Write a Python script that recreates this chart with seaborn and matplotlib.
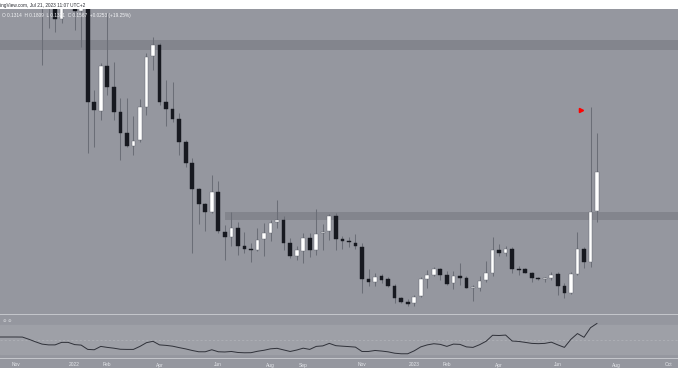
import numpy as np
import pandas as pd
import matplotlib
matplotlib.use("Agg")
import matplotlib.pyplot as plt
import matplotlib.dates as mdates
from matplotlib.patches import Rectangle
import seaborn as sns

# ---------------- data (weekly candles, XLM/USD) ----------------
first_week = "2021-10-11"
opens = [0.3600, 0.3850, 0.3800, 0.3950, 0.3620, 0.3450, 0.3180,
         0.3050, 0.2720, 0.2620, 0.2473, 0.2680, 0.2620, 0.2520, 0.2660, 0.1966, 0.1911,
         0.2186, 0.2057, 0.1905, 0.1776, 0.1697, 0.1734, 0.1935, 0.2247, 0.2314, 0.1966,
         0.1923, 0.1862, 0.1721, 0.1593, 0.1434, 0.1343, 0.1294, 0.1416, 0.1172, 0.1141,
         0.1196, 0.1086, 0.1068, 0.1062, 0.1129, 0.1165, 0.1233, 0.1245, 0.1104, 0.1025,
         0.1055, 0.1135, 0.1062, 0.1165, 0.1178, 0.1269, 0.1129, 0.1117, 0.1104, 0.1080,
         0.0884, 0.0866, 0.0903, 0.0884, 0.0842, 0.0768, 0.0744, 0.0738, 0.0780, 0.0884,
         0.0909, 0.0945, 0.0909, 0.0860, 0.0903, 0.0891, 0.0829, 0.0829, 0.0878, 0.0921,
         0.1062, 0.1043, 0.1068, 0.0945, 0.0945, 0.0921, 0.0891, 0.0884, 0.0891, 0.0915,
         0.0842, 0.0799, 0.0915, 0.1068, 0.0988, 0.1300]
highs = [0.3950, 0.4000, 0.4050, 0.3980, 0.3720, 0.3500, 0.3450,
         0.3200, 0.2850, 0.2680, 0.2750, 0.2850, 0.2720, 0.2750, 0.2720, 0.2039, 0.2204,
         0.2510, 0.2210, 0.1990, 0.1990, 0.1880, 0.1984, 0.2265, 0.2363, 0.2326, 0.2100,
         0.2088, 0.1899, 0.1734, 0.1624, 0.1440, 0.1350, 0.1520, 0.1483, 0.1214, 0.1294,
         0.1233, 0.1172, 0.1104, 0.1196, 0.1227, 0.1245, 0.1367, 0.1269, 0.1135, 0.1086,
         0.1165, 0.1165, 0.1312, 0.1220, 0.1281, 0.1288, 0.1147, 0.1141, 0.1159, 0.1104,
         0.0945, 0.0921, 0.0915, 0.0897, 0.0854, 0.0774, 0.0762, 0.0787, 0.0897, 0.0939,
         0.0958, 0.0952, 0.0933, 0.0933, 0.0982, 0.0903, 0.0848, 0.0903, 0.0994, 0.1141,
         0.1098, 0.1086, 0.1080, 0.0964, 0.0952, 0.0927, 0.0897, 0.0897, 0.0927, 0.0927,
         0.0860, 0.0927, 0.1172, 0.1080, 0.1935, 0.1776]
lows = [0.3520, 0.3700, 0.3720, 0.3500, 0.3300, 0.3100, 0.3000,
        0.2192, 0.2418, 0.2393, 0.2448, 0.2560, 0.2406, 0.2302, 0.1654, 0.1691, 0.1856,
        0.2009, 0.1856, 0.1611, 0.1691, 0.1642, 0.1721, 0.1886, 0.2161, 0.1947, 0.1819,
        0.1844, 0.1642, 0.1569, 0.1043, 0.1220, 0.1178, 0.1290, 0.1165, 0.1000, 0.1086,
        0.1031, 0.1043, 0.0988, 0.1055, 0.1025, 0.1117, 0.1196, 0.1062, 0.1013, 0.1000,
        0.0982, 0.1019, 0.1031, 0.1062, 0.1123, 0.1062, 0.1068, 0.1080, 0.1068, 0.0799,
        0.0842, 0.0842, 0.0860, 0.0835, 0.0738, 0.0738, 0.0719, 0.0719, 0.0774, 0.0829,
        0.0903, 0.0878, 0.0850, 0.0823, 0.0848, 0.0826, 0.0750, 0.0811, 0.0866, 0.0903,
        0.1025, 0.1025, 0.0921, 0.0909, 0.0918, 0.0866, 0.0878, 0.0866, 0.0878, 0.0787,
        0.0768, 0.0793, 0.0909, 0.0952, 0.0958, 0.1233]
closes = [0.3850, 0.3800, 0.3950, 0.3620, 0.3450, 0.3180, 0.3050,
          0.2720, 0.2620, 0.2473, 0.2680, 0.2620, 0.2520, 0.2660, 0.1966, 0.1917, 0.2186,
          0.2057, 0.1905, 0.1776, 0.1697, 0.1727, 0.1935, 0.2241, 0.2314, 0.1966, 0.1923,
          0.1862, 0.1721, 0.1593, 0.1434, 0.1343, 0.1294, 0.1416, 0.1178, 0.1141, 0.1196,
          0.1086, 0.1068, 0.1062, 0.1123, 0.1165, 0.1227, 0.1245, 0.1104, 0.1022, 0.1062,
          0.1135, 0.1062, 0.1159, 0.1172, 0.1269, 0.1129, 0.1117, 0.1110, 0.1086, 0.0884,
          0.0866, 0.0897, 0.0878, 0.0842, 0.0768, 0.0744, 0.0732, 0.0774, 0.0884, 0.0909,
          0.0945, 0.0909, 0.0854, 0.0903, 0.0891, 0.0829, 0.0833, 0.0872, 0.0921, 0.1062,
          0.1043, 0.1068, 0.0945, 0.0939, 0.0921, 0.0891, 0.0884, 0.0888, 0.0909, 0.0842,
          0.0799, 0.0915, 0.1068, 0.0988, 0.1294, 0.1538]
rsi_values = [53.5, 53.5, 53.5, 53.5, 53.4, 50.3, 46.8,
              43.6, 42.5, 42.5, 46.0, 46.0, 42.9, 42.2, 36.2, 35.7, 40.4,
              39.0, 37.9, 36.4, 36.2, 36.2, 40.4, 45.6, 47.5, 42.5, 41.8,
              40.7, 38.7, 36.9, 34.7, 32.9, 32.9, 35.7, 32.9, 32.6, 33.3,
              31.9, 31.5, 31.6, 33.6, 35.0, 37.0, 37.7, 35.5, 33.3, 35.3,
              37.9, 36.2, 40.4, 41.1, 44.6, 41.4, 40.7, 40.1, 39.4, 33.3,
              33.3, 34.7, 33.9, 32.8, 30.9, 30.1, 30.1, 34.2, 39.7, 42.5,
              44.1, 43.2, 40.4, 43.6, 43.2, 39.7, 39.0, 42.7, 47.5, 55.9,
              55.6, 56.2, 47.9, 47.3, 46.0, 44.6, 44.2, 44.6, 46.3, 42.5,
              39.0, 50.3, 58.3, 53.1, 66.5, 72.5]

tick_dates = ["2021-11-01", "2022-01-03", "2022-02-07", "2022-04-04", "2022-06-06",
              "2022-08-01", "2022-09-05", "2022-11-07", "2023-01-02", "2023-02-06",
              "2023-04-03", "2023-06-05", "2023-08-07", "2023-10-02"]
tick_labels = ["Nov", "2022", "Feb", "Apr", "Jun", "Aug", "Sep", "Nov", "2023",
               "Feb", "Apr", "Jun", "Aug", "Oct"]

zone_low = [0.2284, 0.1245]
zone_high = [0.2345, 0.1294]
zone_start = ["2021-09-01", "2022-06-13"]
marker_date = "2023-06-30"
marker_price = 0.1917

header_text = "ingView.com, Jul 21, 2023 11:07 UTC+2"
ohlc_text = "O 0.1314  H 0.1809  L 0.1321  C 0.1567  +0.0253 (+19.25%)"

# ---------------- styling ----------------
sns.set_theme(style="white")
plt.rcParams["font.family"] = ["Liberation Sans", "DejaVu Sans"]

BG = "#95979f"
BAND = "#83858d"
RSI_BAND = "#9ea0a7"
SEP = "#c3c5ca"
BLACK = "#171920"
WICK = "#6b6e77"

W, H = 678, 381
fig = plt.figure(figsize=(W / 100, H / 100), dpi=100)
fig.patch.set_facecolor("white")

def fy(px):
    return 1 - px / H

df = pd.DataFrame({
    "date": pd.date_range(first_week, periods=len(opens), freq="W-MON"),
    "open": opens, "high": highs, "low": lows, "close": closes, "rsi": rsi_values,
})
df["x"] = mdates.date2num(df["date"])
up = df["close"] >= df["open"]

x_left = mdates.date2num(pd.Timestamp("2021-11-29")) - 42 / 6.53 * 7
x_right = x_left + W / 6.53 * 7

# bottom time strip and separators
fig.add_artist(Rectangle((0, fy(368)), 1, (368 - 358) / H, transform=fig.transFigure,
                         facecolor=BG, edgecolor="none", zorder=0))
for py in (314.5, 358):
    fig.add_artist(Rectangle((0, fy(py + 0.5)), 1, 1.0 / H, transform=fig.transFigure,
                             facecolor=SEP, edgecolor="none", zorder=3))

# ---------------- main price panel ----------------
ax = fig.add_axes([0, fy(314), 1, (314 - 9) / H])
ax.set_facecolor(BG)
for lo, hi, st in zip(zone_low, zone_high, zone_start):
    xs = mdates.date2num(pd.Timestamp(st))
    ax.add_patch(Rectangle((xs, lo), x_right + 50 - xs, hi - lo, facecolor=BAND,
                           edgecolor="none", zorder=1))

ax.vlines(df["x"], df["low"], df["high"], color=WICK, linewidth=0.75, zorder=2)
body_w = 3.7 / 6.53 * 7
bottoms = np.minimum(df["open"], df["close"])
heights = np.maximum(np.abs(df["close"] - df["open"]), 0.0007)
ax.bar(df["x"][~up], heights[~up], bottom=bottoms[~up], width=body_w,
       color=BLACK, edgecolor=BLACK, linewidth=0.3, zorder=3)
ax.bar(df["x"][up], heights[up], bottom=bottoms[up], width=body_w,
       color="white", edgecolor="#5f626b", linewidth=0.3, zorder=3)
ax.plot([mdates.date2num(pd.Timestamp(marker_date))], [marker_price], marker=">",
        color="#ff0000", markersize=3.0, linestyle="none", zorder=4)

ax.set_xlim(x_left, x_right)
ax.set_ylim(0.0670, 0.2534)
ax.set_xticks([])
ax.set_yticks([])
for s in ax.spines.values():
    s.set_visible(False)

# ---------------- RSI panel ----------------
ar = fig.add_axes([0, fy(357.5), 1, (357.5 - 315) / H])
ar.set_facecolor(BG)
ar.axhspan(30, 70, color=RSI_BAND, zorder=0)
ar.axhline(50, color="#b3b5bb", linewidth=0.5, linestyle=(0, (3, 3)), zorder=1)
sns.lineplot(data=df, x="x", y="rsi", ax=ar, color="#2f3139", linewidth=0.7, zorder=2)
ar.set_xlim(x_left, x_right)
ar.set_ylim(24.9, 84.2)
ar.set_xlabel("")
ar.set_ylabel("")
ar.set_yticks([])
ar.set_xticks(mdates.date2num(pd.to_datetime(tick_dates)))
ar.set_xticklabels(tick_labels, fontsize=3.5, color="#e4e6ea")
ar.tick_params(axis="x", length=0, pad=3.6)
for s in ar.spines.values():
    s.set_visible(False)
ar.text(0.004, 0.87, "⊘ ⊘", transform=ar.transAxes, fontsize=3.2, color="#d8dade",
        va="center", ha="left", family=["DejaVu Sans"])

# ---------------- header texts ----------------
fig.text(0.0, fy(5), header_text, fontsize=3.4, color="#2a2c33", va="center", ha="left")
fig.text(0.003, fy(15), ohlc_text, fontsize=3.4, color="#f4f5f7", va="center", ha="left",
         zorder=10)

fig.savefig("out.png", dpi=100, facecolor="white")
